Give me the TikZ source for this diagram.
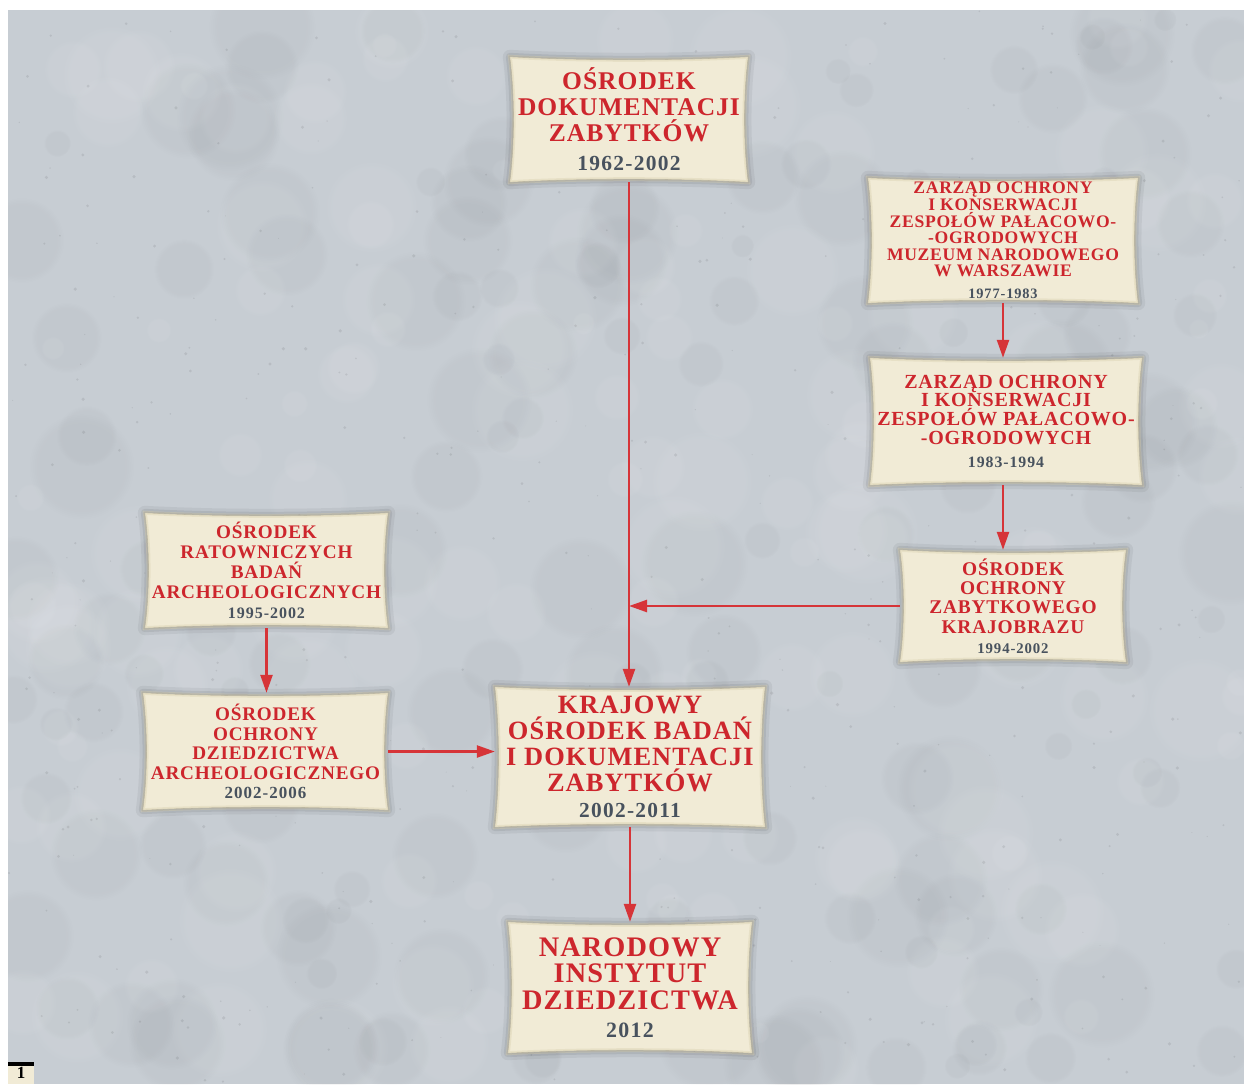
\documentclass[tikz,border=0pt]{standalone}
\usepackage{fontspec}
\setmainfont{Liberation Serif}
\newfontfamily\spc[LetterSpace=4]{Liberation Serif}
\newfontfamily\yrfam[LetterSpace=6]{Liberation Serif}
\usetikzlibrary{arrows.meta,calc,fadings}
\pgfdeclarelayer{boxes}
\pgfdeclarelayer{bg}
\pgfsetlayers{bg,boxes,main}
\definecolor{bggrey}{RGB}{199,205,211}
\definecolor{txtred}{RGB}{205,38,45}
\definecolor{yrgrey}{RGB}{72,82,94}
\definecolor{arrred}{RGB}{214,52,56}
\definecolor{beige}{RGB}{241,235,214}
\definecolor{beigeedge}{RGB}{218,208,176}
\newcommand\yr[2]{{\color{yrgrey}\yrfam\bfseries\fontsize{#1pt}{#1pt}\selectfont #2}}
\newcommand\scrollpath[1]{%
 (#1.north west)
 .. controls ($(#1.north west)!.3!(#1.north east)+(0,4)$) and ($(#1.north west)!.7!(#1.north east)+(0,4)$) .. (#1.north east)
 .. controls ($(#1.north east)!.3!(#1.south east)+(-5,0)$) and ($(#1.north east)!.7!(#1.south east)+(-5,0)$) .. (#1.south east)
 .. controls ($(#1.south east)!.3!(#1.south west)+(0,-4)$) and ($(#1.south east)!.7!(#1.south west)+(0,-4)$) .. (#1.south west)
 .. controls ($(#1.south west)!.3!(#1.north west)+(5,0)$) and ($(#1.south west)!.7!(#1.north west)+(5,0)$) .. cycle}
\newcommand\scrollbg[1]{%
 \begin{scope}[shift={(1,2)}]
  \draw[black,opacity=0.05,line width=14pt,line join=round] \scrollpath{#1};
  \draw[black,opacity=0.07,line width=8pt,line join=round] \scrollpath{#1};
  \draw[black,opacity=0.10,line width=3pt,line join=round] \scrollpath{#1};
 \end{scope}
 \fill[beige] \scrollpath{#1};
 \draw[beigeedge,line width=4pt,opacity=0.4] \scrollpath{#1};
 \draw[beigeedge!80!black,line width=0.6pt,opacity=0.45] \scrollpath{#1};
}
\tikzset{
 scrollnode/.style={shape=rectangle,inner sep=0pt,align=center,text=txtred},
 conn/.style={draw=arrred,line width=2.4pt,-{Triangle[length=18pt,width=12pt]}},
 blot/.style={path fading=circle with fuzzy edge 20 percent,fit fading=true},
}
\begin{document}
\begin{tikzpicture}[x=1pt,y=-1pt]
\useasboundingbox (0,0) rectangle (1244,1084);
\begin{pgfonlayer}{bg}
\fill[white] (0,0) rectangle (1244,1084);
\fill[bggrey] (8,10) rectangle (1244,1084);
\begin{scope}
 \clip (8,10) rectangle (1244,1084);
 \pgfmathsetseed{12}
 \foreach \i in {1,...,160}{
  \pgfmathsetmacro\xx{8+rnd*1236}
  \pgfmathsetmacro\yy{10+rnd*1074}
  \pgfmathsetmacro\rr{10+rnd*45}
  \fill[black,opacity=0.025,blot] (\xx,\yy) circle (\rr);
 }
 \foreach \i in {1,...,160}{
  \pgfmathsetmacro\xx{8+rnd*1236}
  \pgfmathsetmacro\yy{10+rnd*1074}
  \pgfmathsetmacro\rr{10+rnd*45}
  \fill[white,opacity=0.06,blot] (\xx,\yy) circle (\rr);
 }
 \foreach \i in {1,...,500}{
  \pgfmathsetmacro\xx{8+rnd*1236}
  \pgfmathsetmacro\yy{10+rnd*1074}
  \pgfmathsetmacro\rr{0.5+rnd*1.3}
  \fill[black,opacity=0.08] (\xx,\yy) circle (\rr);
 }
\end{scope}
\end{pgfonlayer}

% nodes
\node[scrollnode,minimum width=238pt,minimum height=125pt,font=\spc\bfseries\fontsize{25.5pt}{26pt}\selectfont] (odz) at (629,119.5)
 {OŚRODEK\\DOKUMENTACJI\\ZABYTKÓW\\[3pt]\yr{21.5}{1962-2002}};
\node[scrollnode,minimum width=270pt,minimum height=125pt,font=\spc\bfseries\fontsize{17.6pt}{16.6pt}\selectfont] (zo1) at (1003,240.5)
 {ZARZĄD OCHRONY\\I KONSERWACJI\\ZESPOŁÓW PAŁACOWO-\\-OGRODOWYCH\\MUZEUM NARODOWEGO\\W WARSZAWIE\\[5pt]\yr{14.4}{1977-1983}};
\node[scrollnode,minimum width=272pt,minimum height=127pt,font=\spc\bfseries\fontsize{20pt}{18.6pt}\selectfont] (zo2) at (1006,421.5)
 {ZARZĄD OCHRONY\\I KONSERWACJI\\ZESPOŁÓW PAŁACOWO-\\-OGRODOWYCH\\[5pt]\yr{15.8}{1983-1994}};
\node[scrollnode,minimum width=226pt,minimum height=112pt,font=\spc\bfseries\fontsize{19.4pt}{19.3pt}\selectfont] (oozk) at (1013,606)
 {OŚRODEK\\OCHRONY\\ZABYTKOWEGO\\KRAJOBRAZU\\[1pt]\yr{14.8}{1994-2002}};
\node[scrollnode,minimum width=243pt,minimum height=115pt,font=\spc\bfseries\fontsize{19.2pt}{20pt}\selectfont] (orba) at (266.5,570.5)
 {OŚRODEK\\RATOWNICZYCH\\BADAŃ\\ARCHEOLOGICZNYCH\\\yr{16}{1995-2002}};
\node[scrollnode,minimum width=245pt,minimum height=117pt,font=\spc\bfseries\fontsize{19.2pt}{19.5pt}\selectfont] (ooda) at (265.5,751.5)
 {OŚRODEK\\OCHRONY\\DZIEDZICTWA\\ARCHEOLOGICZNEGO\\\yr{17}{2002-2006}};
\node[scrollnode,minimum width=270pt,minimum height=140pt,font=\spc\bfseries\fontsize{26.4pt}{26pt}\selectfont] (kob) at (630,757)
 {KRAJOWY\\OŚRODEK BADAŃ\\I DOKUMENTACJI\\ZABYTKÓW\\\yr{21.4}{2002-2011}};
\node[scrollnode,minimum width=244pt,minimum height=131pt,font=\spc\bfseries\fontsize{28.3pt}{26.5pt}\selectfont] (nid) at (630,987.5)
 {NARODOWY\\INSTYTUT\\DZIEDZICTWA\\[2pt]\yr{21.9}{2012}};

\begin{pgfonlayer}{boxes}
 \scrollbg{odz}
 \scrollbg{zo1}
 \scrollbg{zo2}
 \scrollbg{oozk}
 \scrollbg{orba}
 \scrollbg{ooda}
 \scrollbg{kob}
 \scrollbg{nid}
\end{pgfonlayer}

% connectors
\coordinate (join) at (odz.south |- oozk.west);
\draw[conn] (odz.south) -- (odz.south |- kob.north);
\draw[conn] (oozk.west) -- (join);
\draw[conn] (zo1.south) -- (zo1.south |- zo2.north);
\draw[conn] (zo1.south |- zo2.south) -- (zo1.south |- oozk.north);
\draw[conn] (orba.south) -- (orba.south |- ooda.north);
\draw[conn] (ooda.east) -- (ooda.east -| kob.west);
\draw[conn] (kob.south) -- (kob.south |- nid.north);

\node[fill=beige,minimum width=26pt,minimum height=22pt,inner sep=0pt,font=\bfseries\fontsize{17pt}{17pt}\selectfont,anchor=south west] (fig) at (8,1084) {1};
\fill[black] (fig.north west) rectangle ($(fig.north east)+(0,4)$);
\end{tikzpicture}
\end{document}
